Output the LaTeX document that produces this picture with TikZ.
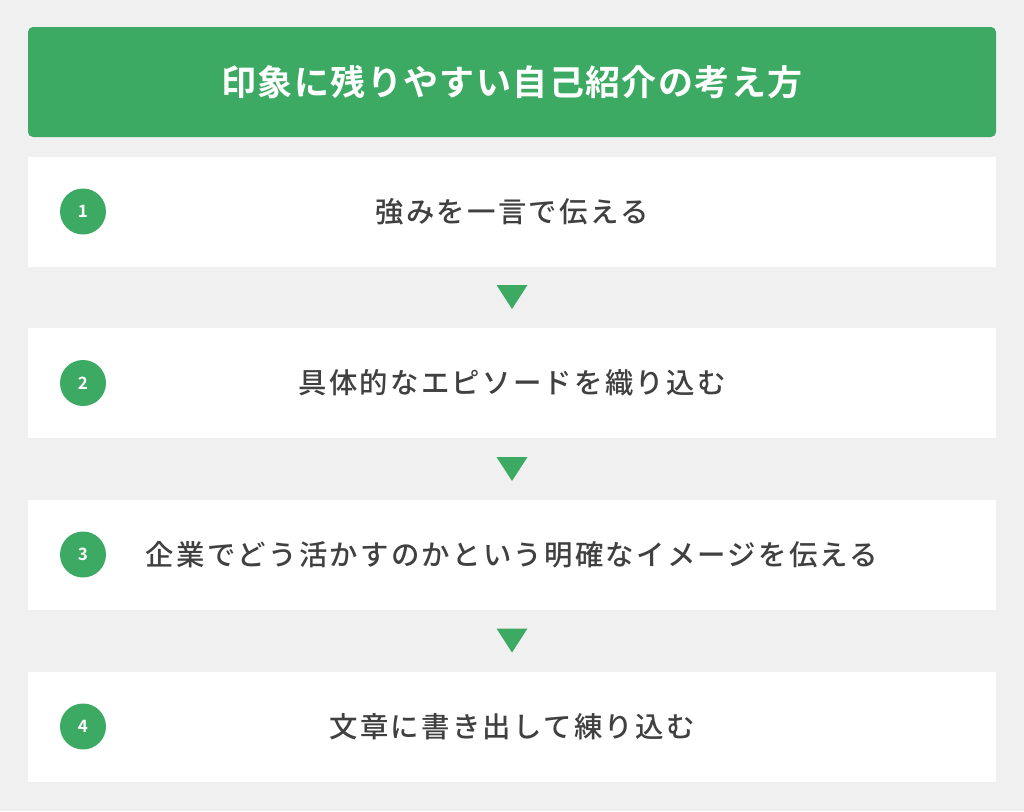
\documentclass[tikz,border=0pt]{standalone}
\usepackage{fontspec}
\setmainfont{Noto Sans CJK JP}[BoldFont={* Bold}]
\newfontfamily\medfont{Noto Sans CJK JP Medium}
\definecolor{bg}{HTML}{F0F0F0}
\definecolor{grn}{HTML}{3DAA64}
\definecolor{txt}{HTML}{404040}
\begin{document}
\begin{tikzpicture}[x=1pt,y=-1pt,
  stepbox/.style={fill=white,draw=none,minimum width=968pt,minimum height=110pt,inner sep=0pt},
  numcirc/.style={circle,fill=grn,minimum size=46pt,inner sep=0pt,text=white,font=\fontsize{17}{17}\selectfont\bfseries},
  steptext/.style={text=txt,font=\fontsize{28.4}{28.4}\selectfont\medfont\addfontfeatures{LetterSpace=8}},
  tri/.style={fill=grn}
]
\fill[bg] (0,0) rectangle (1024,811);
\node[fill=grn,rounded corners=5pt,minimum width=968pt,minimum height=110pt,inner sep=0pt,
  text=white,font=\fontsize{35}{35}\selectfont\bfseries\addfontfeatures{LetterSpace=4}] (head) at (512,82) {印象に残りやすい自己紹介の考え方};
\node[stepbox] (b1) at (512,211.5) {};
\node[stepbox] (b2) at (512,383) {};
\node[stepbox] (b3) at (512,554.5) {};
\node[stepbox] (b4) at (512,726.5) {};
\node[numcirc] (n1) at (83,211.5) {1};
\node[numcirc] (n2) at (83,383) {2};
\node[numcirc] (n3) at (83,554.5) {3};
\node[numcirc] (n4) at (83,726.5) {4};
\node[steptext] (t1) at (512,211.5) {強みを一言で伝える};
\node[steptext] (t2) at (512,383) {具体的なエピソードを織り込む};
\node[steptext] (t3) at (512,554.5) {企業でどう活かすのかという明確なイメージを伝える};
\node[steptext] (t4) at (512,726.5) {文章に書き出して練り込む};
\coordinate (a1) at (512,297);
\coordinate (a2) at (512,469);
\coordinate (a3) at (512,640.5);
\foreach \c in {a1,a2,a3}{
  \fill[tri] ([shift={(-15.5,-12)}]\c) -- ([shift={(15.5,-12)}]\c) -- ([shift={(0,12)}]\c) -- cycle;
}
\end{tikzpicture}
\end{document}
